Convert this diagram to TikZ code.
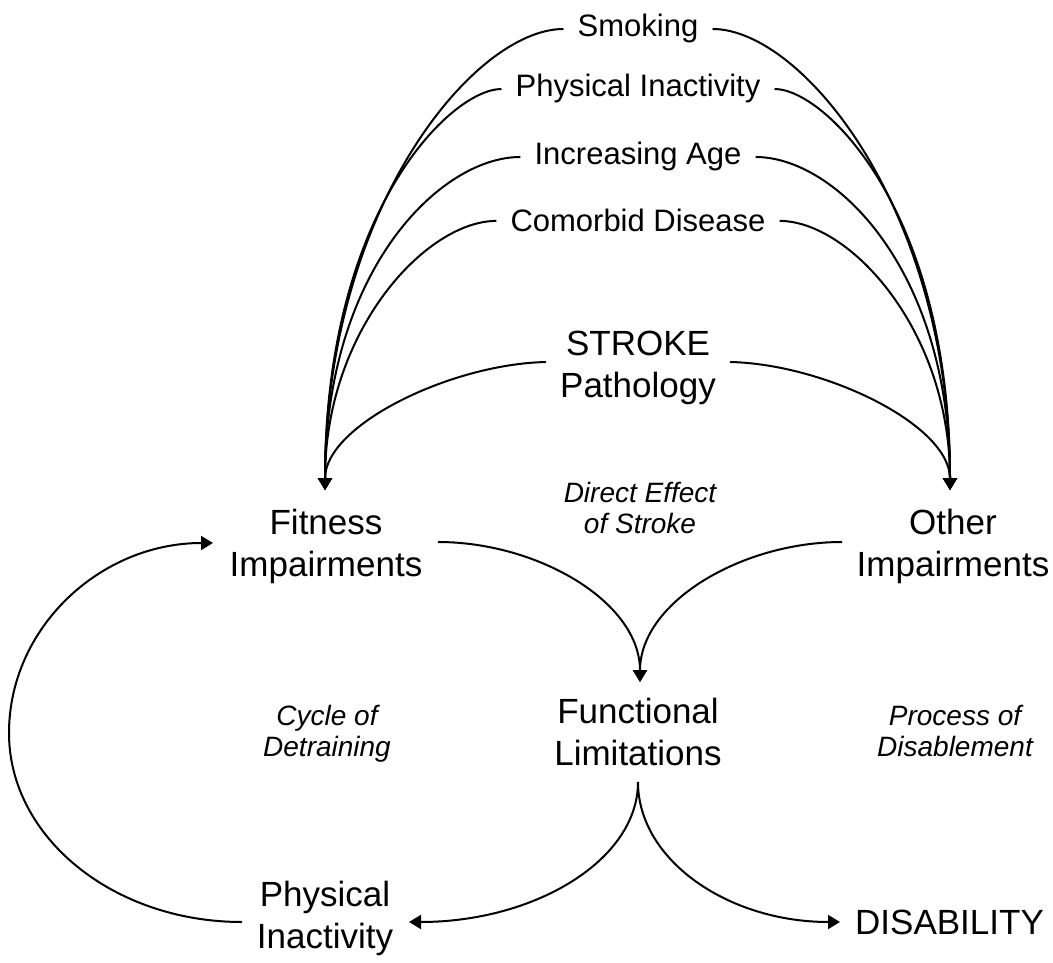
\documentclass[tikz,border=0pt]{standalone}
\usepackage{fontspec}
\setmainfont{Liberation Sans}
\usetikzlibrary{arrows.meta}
\begin{document}
\begin{tikzpicture}[x=1pt,y=-1pt,
  risk/.style={inner xsep=14pt, inner ysep=0pt, font=\fontsize{31}{37}\selectfont},
  big/.style={align=center, inner sep=0pt, font=\fontsize{35}{42}\selectfont},
  note/.style={align=center, inner sep=0pt, font=\fontsize{28}{31}\selectfont\itshape},
  conn/.style={line width=2pt},
  arr/.style={conn, -{Triangle[length=12pt,width=14pt]}}]
\useasboundingbox (0,0) rectangle (1053,963);

% risk factors
\node[risk, anchor=base] (smoke) at (638,37) {Smoking};
\node[risk, anchor=base] (inact) at (638,97) {Physical Inactivity};
\node[risk, anchor=base] (age) at (638,165) {Increasing Age};
\node[risk, anchor=base] (comorb) at (638,232) {Comorbid Disease};
\node[big] (stroke) at (638,368) {STROKE\\Pathology};

% main nodes
\node[big] (fit) at (326,546) {Fitness\\Impairments};
\node[big] (oth) at (953,546) {Other\\Impairments};
\node[note] (direct) at (640,508) {Direct Effect\\of Stroke};
\node[big] (fun) at (638,732) {Functional\\Limitations};
\node[note] (cycle) at (327,734) {Cycle of\\Detraining};
\node[note] (proc) at (955,731) {Process of\\Disablement};
\node[big] (pin) at (325,918) {Physical\\Inactivity};
\node[big, anchor=west] (dis) at (855,922) {DISABILITY};

% connector end points next to the nodes
\coordinate (fitIn) at (325,490);
\coordinate (othIn) at (950,490);
\coordinate (strokeL) at (546,362);
\coordinate (strokeR) at (730,362);
\coordinate (fitR) at (438,542);
\coordinate (othL) at (842,542);
\coordinate (funIn) at (640,682);
\coordinate (funOut) at (638,782);
\coordinate (pinIn) at (409,922);
\coordinate (pinL) at (242,922);
\coordinate (disIn) at (840,922);
\coordinate (fitL) at (213,543);
\coordinate (cycL) at (9,733);

% risk factor arrows
\foreach \n/\a/\b in {smoke/90/280, inact/50/280, age/80/220, comorb/70/160}{
  \draw[arr] (\n.west) .. controls +(-\a,0) and +(0,-\b) .. (fitIn);
  \draw[arr] (\n.east) .. controls +(\a,0) and +(0,-\b) .. (othIn);
}
\draw[arr] (strokeL) .. controls +(-95,2) and +(0,-65) .. (fitIn);
\draw[arr] (strokeR) .. controls +(95,2) and +(0,-65) .. (othIn);

% impairments to functional limitations
\draw[arr] (fitR) .. controls +(100,0) and +(0,-80) .. (funIn);
\draw[arr] (othL) .. controls +(-100,0) and +(0,-80) .. (funIn);

% functional limitations outputs
\draw[arr] (funOut) .. controls +(0,78) and +(126,0) .. (pinIn);
\draw[arr] (funOut) .. controls +(0,78) and +(-112,0) .. (disIn);

% cycle of detraining
\draw[arr] (pinL) .. controls +(-129,0) and +(0,104) .. (cycL)
  .. controls +(0,-105) and +(-113,0) .. (fitL);
\end{tikzpicture}
\end{document}
